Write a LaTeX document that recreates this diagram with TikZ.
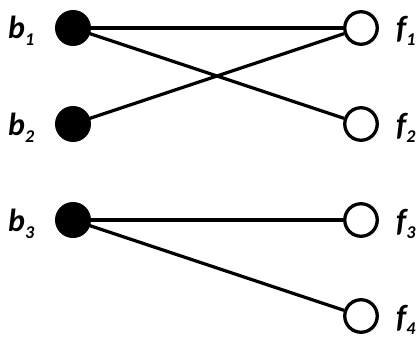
\documentclass[tikz,border=0pt]{standalone}
\usepackage{fontspec}
\setmainfont{Carlito}
\begin{document}
\begin{tikzpicture}[x=1pt,y=-1pt,
  bnode/.style={circle,fill=black,minimum size=36pt,inner sep=0pt},
  fnode/.style={circle,draw=black,fill=white,line width=3.3pt,minimum size=32.5pt,inner sep=0pt},
  lab/.style={font=\fontsize{32}{32}\selectfont\bfseries\itshape,inner sep=0pt,anchor=base west},
  edge/.style={line width=3.3pt}]
\useasboundingbox (0,0) rectangle (420,337);
\node[bnode] (b1) at (73,28) {};
\node[bnode] (b2) at (73,124) {};
\node[bnode] (b3) at (73,220) {};
\node[fnode] (f1) at (361,28) {};
\node[fnode] (f2) at (361,124) {};
\node[fnode] (f3) at (361,220) {};
\node[fnode] (f4) at (361,316) {};
\newcommand{\subs}[1]{\raisebox{-7pt}{\fontsize{18}{18}\selectfont #1}}
\node[lab] (lb1) at (8,39) {b\subs{1}};
\node[lab] (lb2) at (8,135) {b\subs{2}};
\node[lab] (lb3) at (8,231) {b\subs{3}};
\node[lab] (lf1) at (396,39) {f\subs{1}};
\node[lab] (lf2) at (396,135) {f\subs{2}};
\node[lab] (lf3) at (396,231) {f\subs{3}};
\node[lab] (lf4) at (396,327) {f\subs{4}};
\draw[edge] (b1.center) -- (f1);
\draw[edge] (b1.center) -- (f2);
\draw[edge] (b2.center) -- (f1);
\draw[edge] (b3.center) -- (f3);
\draw[edge] (b3.center) -- (f4);
\end{tikzpicture}
\end{document}
